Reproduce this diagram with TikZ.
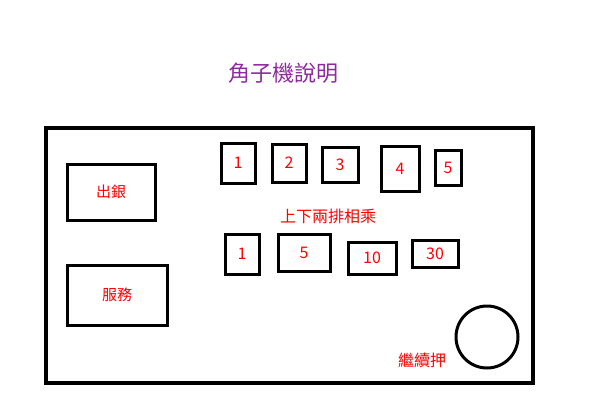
\documentclass[tikz,border=0pt]{standalone}
\usepackage{fontspec}
\newfontfamily\cjkfont{Noto Sans CJK TC}
\usepackage{tikz}
\usetikzlibrary{positioning}
\usepackage{xcolor}
\definecolor{TitlePurple}{RGB}{142,42,160}
\definecolor{LabelRed}{RGB}{255,0,0}
\tikzset{
  machine/.style={draw=black, line width=3.5pt},
  slotbox/.style={draw=black, line width=3pt, fill=white,
    text=LabelRed, font=\cjkfont\fontsize{16}{18}\selectfont},
  buttonbox/.style={draw=black, line width=3pt, fill=white,
    text=LabelRed, font=\cjkfont\fontsize{15}{17}\selectfont},
  note/.style={text=LabelRed, font=\cjkfont\fontsize{16}{18}\selectfont}
}

\begin{document}
\begin{tikzpicture}[x=1pt,y=-1pt]
  \useasboundingbox (0,0) rectangle (600,402);

  \node[text=TitlePurple, font=\cjkfont\fontsize{22}{24}\selectfont]
    (title) at (283,73) {角子機說明};

  \draw[machine] (46,128) rectangle (533,383);

  % left buttons
  \node[buttonbox, minimum width=88pt, minimum height=56pt]
    (payout) at (111,192) {出銀};
  \node[buttonbox, minimum width=100pt, minimum height=60pt]
    (service) at (117,295) {服務};

  % upper row
  \node[slotbox, minimum width=34pt, minimum height=40pt] (top1) at (238,163) {1};
  \node[slotbox, minimum width=34pt, minimum height=38pt] (top2) at (289,163) {2};
  \node[slotbox, minimum width=36pt, minimum height=35pt] (top3) at (340,165) {3};
  \node[slotbox, minimum width=38pt, minimum height=45pt] (top4) at (400,169) {4};
  \node[slotbox, minimum width=26pt, minimum height=35pt] (top5) at (448,168) {5};

  \node[note] (rule) at (328,216) {上下兩排相乘};

  % lower row
  \node[slotbox, minimum width=34pt, minimum height=40pt] (bot1) at (242,254) {1};
  \node[slotbox, minimum width=52pt, minimum height=37pt] (bot5) at (304,253) {5};
  \node[slotbox, minimum width=48pt, minimum height=32pt] (bot10) at (372,258) {10};
  \node[slotbox, minimum width=46pt, minimum height=27pt] (bot30) at (435,254) {30};

  % continue button
  \node[draw=black, line width=3pt, circle, minimum size=62pt]
    (spin) at (487,337) {};
  \node[note] (spinlabel) at (422,360) {繼續押};
\end{tikzpicture}
\end{document}
